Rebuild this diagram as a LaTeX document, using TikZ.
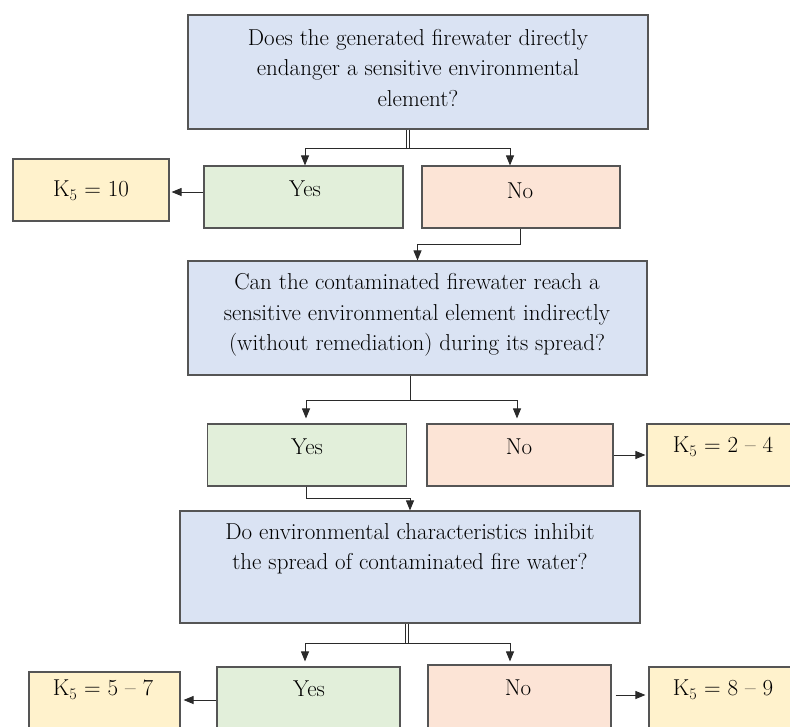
\documentclass[tikz,border=0pt]{standalone}
\usetikzlibrary{arrows.meta,calc}
\definecolor{qblue}{HTML}{DAE3F3}
\definecolor{ygreen}{HTML}{E2EFDA}
\definecolor{npeach}{HTML}{FCE4D6}
\definecolor{kyellow}{HTML}{FFF2CC}
\definecolor{bord}{HTML}{555555}
\definecolor{lineC}{HTML}{2A2A2A}
\begin{document}
\begin{tikzpicture}[x=1pt,y=-1pt,
  box/.style={draw=bord, line width=1.1pt, inner sep=0pt, rectangle},
  txt/.style={font=\fontsize{23}{30.5}\selectfont, align=center, inner sep=0pt},
  arr/.style={draw=lineC, line width=0.9pt, -{Triangle[length=10pt,width=8pt]}},
  dbl/.style={draw=lineC, double=white, double distance=1.6pt, line width=0.8pt}]
\clip (0,0) rectangle (790,726);
% boxes
\node[box, fill=qblue, minimum width=460pt, minimum height=114pt] (q1) at (418,72) {};
\node[box, fill=ygreen, minimum width=199pt, minimum height=62pt] (y1) at (303.5,197) {};
\node[box, fill=npeach, minimum width=198pt, minimum height=62pt] (n1) at (521,197) {};
\node[box, fill=kyellow, minimum width=156pt, minimum height=62pt] (k1) at (91,190) {};
\node[box, fill=qblue, minimum width=459pt, minimum height=114pt] (q2) at (417.5,318) {};
\node[box, fill=ygreen, minimum width=198.5pt, minimum height=62pt] (y2) at (307,455) {};
\node[box, fill=npeach, minimum width=186pt, minimum height=62pt] (n2) at (520,455) {};
\node[box, fill=kyellow, minimum width=183pt, minimum height=62pt] (k2) at (738.5,455) {};
\node[box, fill=qblue, minimum width=460pt, minimum height=112pt] (q3) at (410,567) {};
\node[box, fill=ygreen, minimum width=183pt, minimum height=93pt] (y3) at (308.5,713.5) {};
\node[box, fill=npeach, minimum width=183pt, minimum height=95pt] (n3) at (519.5,712.5) {};
\node[box, fill=kyellow, minimum width=151pt, minimum height=88pt] (k3) at (104.5,716) {};
\node[box, fill=kyellow, minimum width=181pt, minimum height=93pt] (k4) at (739.5,713.5) {};
% texts
\node[txt] (q1t) at (418,68) {Does the generated firewater directly\\endanger a sensitive environmental\\element?};
\node[txt] (y1t) at (305,189) {Yes};
\node[txt] (n1t) at (520,191) {No};
\node[txt] (k1t) at (91,191) {K\textsubscript{5} = 10};
\node[txt] (q2t) at (417,315) {Can the contaminated firewater reach a\\sensitive environmental element indirectly\\(without remediation) during its spread?};
\node[txt] (y2t) at (307,447) {Yes};
\node[txt] (n2t) at (519,447) {No};
\node[txt] (k2t) at (723,447) {K\textsubscript{5} = 2 -- 4};
\node[txt] (q3t) at (410,549) {Do environmental characteristics inhibit\\the spread of contaminated fire water?};
\node[txt] (y3t) at (309,689) {Yes};
\node[txt] (n3t) at (518,688) {No};
\node[txt] (k3t) at (103,690) {K\textsubscript{5} = 5 -- 7};
\node[txt] (k4t) at (723,690) {K\textsubscript{5} = 8 -- 9};
% junctions
\coordinate (j1) at (408,148);
\coordinate (j2) at (410.6,400);
\coordinate (j3) at (407,643);
\coordinate (a1) at (0,192);
\coordinate (a3) at (0,700);
\coordinate (a4) at (0,695);
% connectors
\draw[dbl] (j1 |- q1.south) -- (j1);
\draw[arr] (j1) -| ([xshift=1.5pt]y1.north);
\draw[arr] (j1) -| ([xshift=-11pt]n1.north);
\draw[arr, shorten >=2pt] (y1.west |- a1) -- (k1.east |- a1);
\draw[arr] ([xshift=-1pt]n1.south) -- ++(0,16) -| (q2.north);
\draw[line width=0.9pt, draw=lineC] (j2 |- q2.south) -- (j2);
\draw[arr, shorten >=5pt] (j2) -| ([xshift=-1pt]y2.north);
\draw[arr, shorten >=5pt] (j2) -| ([xshift=-3pt]n2.north);
\draw[arr, shorten >=1pt] (n2) -- (k2);
\draw[arr] ([xshift=-1pt]y2.south) -- ++(0,12) -| (q3.north);
\draw[dbl] (j3 |- q3.south) -- (j3);
\draw[arr, shorten >=5pt] (j3) -| ([xshift=-3.5pt]y3.north);
\draw[arr, shorten >=3pt] (j3) -| ([xshift=-9.5pt]n3.north);
\draw[arr, shorten >=3pt] (y3.west |- a3) -- (k3.east |- a3);
\draw[arr, shorten <=4pt, shorten >=3pt] (n3.east |- a4) -- (k4.west |- a4);
\end{tikzpicture}
\end{document}
